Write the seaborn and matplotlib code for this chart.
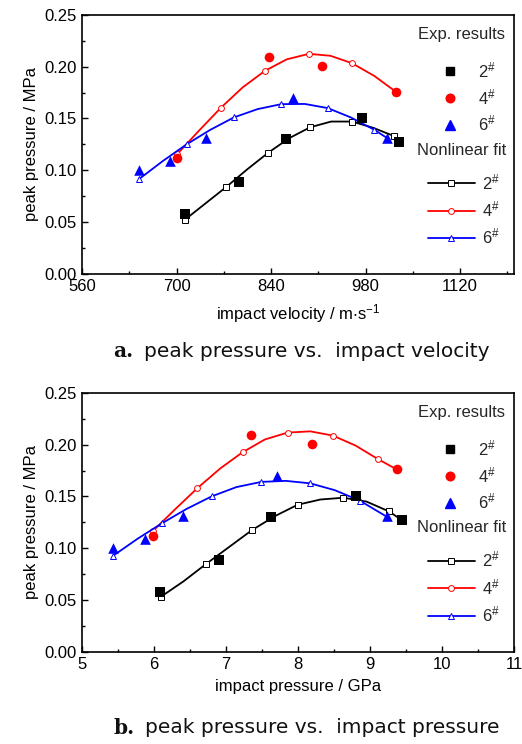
import matplotlib
matplotlib.use("Agg")
import matplotlib.pyplot as plt
import seaborn as sns
from matplotlib.lines import Line2D
from matplotlib.ticker import MultipleLocator

# experimental points, panel a (impact velocity, m/s)
vel_exp2 = [712, 793, 862, 974, 1030]
vel_p2 = [0.058, 0.089, 0.130, 0.150, 0.127]
vel_exp4 = [701, 837, 916, 1025]
vel_p4 = [0.112, 0.209, 0.201, 0.176]
vel_exp6 = [645, 691, 744, 872, 1012]
vel_p6 = [0.100, 0.109, 0.131, 0.170, 0.131]

# nonlinear fit curves, panel a (markers on every other point)
vel_fit2 = [712, 743, 774, 805, 836, 867, 898, 929, 960, 991, 1022, 1030]
vel_fp2 = [0.052, 0.068, 0.084, 0.101, 0.117, 0.131, 0.1415, 0.147, 0.147, 0.141, 0.133, 0.128]
vel_fit4 = [701, 733, 766, 798, 831, 863, 896, 928, 960, 993, 1025]
vel_fp4 = [0.1155, 0.138, 0.1605, 0.180, 0.196, 0.207, 0.2124, 0.2105, 0.2033, 0.191, 0.1757]
vel_fit6 = [645, 680, 715, 750, 785, 820, 855, 890, 924, 958, 993, 1012]
vel_fp6 = [0.0917, 0.109, 0.125, 0.139, 0.151, 0.159, 0.1638, 0.164, 0.160, 0.151, 0.139, 0.131]

# experimental points, panel b (impact pressure, GPa)
pr_exp2 = [6.09, 6.90, 7.63, 8.81, 9.44]
pr_p2 = [0.058, 0.089, 0.130, 0.150, 0.127]
pr_exp4 = [5.99, 7.35, 8.19, 9.37]
pr_p4 = [0.112, 0.209, 0.201, 0.176]
pr_exp6 = [5.43, 5.87, 6.40, 7.71, 9.23]
pr_p6 = [0.100, 0.109, 0.131, 0.170, 0.131]

# nonlinear fit curves, panel b
pr_fit2 = [6.094, 6.41, 6.724, 7.04, 7.359, 7.68, 7.993, 8.31, 8.628, 8.95, 9.263, 9.42]
pr_fp2 = [0.053, 0.068, 0.0848, 0.101, 0.1174, 0.131, 0.1419, 0.147, 0.1487, 0.145, 0.1355, 0.128]
pr_fit4 = [5.987, 6.30, 6.603, 6.92, 7.229, 7.54, 7.854, 8.17, 8.485, 8.80, 9.11, 9.37]
pr_fp4 = [0.1168, 0.138, 0.158, 0.177, 0.1926, 0.205, 0.2116, 0.2128, 0.2087, 0.199, 0.186, 0.176]
pr_fit6 = [5.431, 5.77, 6.11, 6.455, 6.80, 7.145, 7.49, 7.83, 8.17, 8.51, 8.855, 9.226]
pr_fp6 = [0.0926, 0.109, 0.124, 0.138, 0.150, 0.159, 0.164, 0.165, 0.1626, 0.156, 0.146, 0.1306]

series_labels = [r"2$^{\#}$", r"4$^{\#}$", r"6$^{\#}$"]
colors = ["black", "red", "blue"]
exp_markers = ["s", "o", "^"]

sns.set_theme(style="white")
plt.rcParams["font.family"] = ["Liberation Sans", "DejaVu Sans"]
plt.rcParams["mathtext.default"] = "regular"

fig = plt.figure(figsize=(5.22, 7.44), dpi=100)
ax1 = fig.add_axes([0.157, 0.632, 0.828, 0.348])
ax2 = fig.add_axes([0.157, 0.124, 0.828, 0.348])


def draw_panel(ax, exps, fits):
    for (fx, fy), c, m in zip(fits, colors, exp_markers):
        sns.lineplot(x=fx, y=fy, ax=ax, color=c, lw=1.3, sort=False,
                     marker=m, markevery=2, markersize=4.2,
                     markerfacecolor="white", markeredgecolor=c,
                     markeredgewidth=0.7, zorder=2)
    for (ex, ey), c, m in zip(exps, colors, exp_markers):
        sns.scatterplot(x=ex, y=ey, ax=ax, color=c, marker=m,
                        s=48 if m != "^" else 58, edgecolor=c, linewidth=0, zorder=3)

    ax.set_ylim(0, 0.25)
    ax.yaxis.set_major_locator(MultipleLocator(0.05))
    ax.yaxis.set_minor_locator(MultipleLocator(0.025))
    ax.yaxis.set_major_formatter(matplotlib.ticker.FormatStrFormatter("%.2f"))
    ax.tick_params(which="both", direction="in", bottom=True, left=True,
                   top=False, right=False, labelsize=12, colors="black")
    ax.tick_params(which="major", length=4, width=1)
    ax.tick_params(which="minor", length=2.5, width=1)
    for sp in ax.spines.values():
        sp.set_color("black")
        sp.set_linewidth(1.2)
    ax.set_ylabel("peak pressure / MPa", fontsize=12, color="black", labelpad=4)

    # legends
    ax.text(0.979, 0.923, "Exp. results", transform=ax.transAxes,
            ha="right", va="center", fontsize=12)
    ax.text(0.981, 0.478, "Nonlinear fit", transform=ax.transAxes,
            ha="right", va="center", fontsize=12)
    h1 = [Line2D([], [], ls="none", marker=m, color=c, markersize=6.2 if m != "^" else 7.0)
          for m, c in zip(exp_markers, colors)]
    leg1 = ax.legend(h1, series_labels, loc="upper left", bbox_to_anchor=(0.833, 0.825),
                     frameon=False, fontsize=12, handlelength=1.0, handletextpad=1.17,
                     labelspacing=0.42, borderpad=0, borderaxespad=0)
    ax.add_artist(leg1)
    h2 = [Line2D([], [], color=c, lw=1.3, marker=m, markersize=4.2,
                 markerfacecolor="white", markeredgecolor=c, markeredgewidth=0.7)
          for m, c in zip(exp_markers, colors)]
    ax.legend(h2, series_labels, loc="upper left", bbox_to_anchor=(0.801, 0.393),
              frameon=False, fontsize=12, handlelength=2.8, handletextpad=0.42,
              labelspacing=0.45, borderpad=0, borderaxespad=0)


draw_panel(ax1, [(vel_exp2, vel_p2), (vel_exp4, vel_p4), (vel_exp6, vel_p6)],
           [(vel_fit2, vel_fp2), (vel_fit4, vel_fp4), (vel_fit6, vel_fp6)])
ax1.set_xlim(560, 1200)
ax1.xaxis.set_major_locator(MultipleLocator(140))
ax1.xaxis.set_minor_locator(MultipleLocator(70))
ax1.set_xlabel(r"impact velocity / m$\cdot$s$^{-1}$", fontsize=12, color="black", labelpad=6)

draw_panel(ax2, [(pr_exp2, pr_p2), (pr_exp4, pr_p4), (pr_exp6, pr_p6)],
           [(pr_fit2, pr_fp2), (pr_fit4, pr_fp4), (pr_fit6, pr_fp6)])
ax2.set_xlim(5, 11)
ax2.xaxis.set_major_locator(MultipleLocator(1))
ax2.xaxis.set_minor_locator(MultipleLocator(0.5))
ax2.set_xlabel("impact pressure / GPa", fontsize=12, color="black", labelpad=5)

# captions
renderer = fig.canvas.get_renderer()
for y0, tag, rest in [(0.528, "a.", "peak pressure vs.  impact velocity"),
                      (0.022, "b.", "peak pressure vs.  impact pressure")]:
    t = fig.text(0.2165, y0, tag, fontsize=14.5, weight="bold", va="center",
                 family=["DejaVu Serif"], color="#111111")
    bb = t.get_window_extent(renderer)
    fig.text((bb.x1 + 11) / fig.bbox.width, y0, rest, fontsize=14.5, va="center",
             family=["DejaVu Sans"], color="#111111")

fig.savefig("out.png", dpi=100)
